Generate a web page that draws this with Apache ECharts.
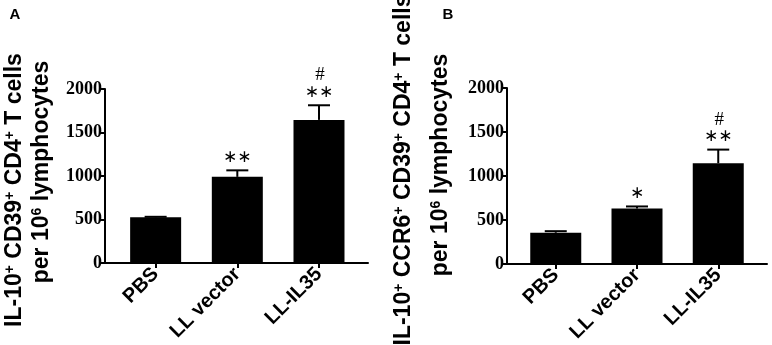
<!DOCTYPE html>
<html>
<head>
<meta charset="utf-8">
<script src="https://cdn.jsdelivr.net/npm/echarts@6/dist/echarts.min.js"></script>
<style>
    html, body { margin: 0; background: #fff; }
    #chart { width: 772px; height: 345px; }
</style>
</head>
<body>
<div id="chart"></div>
<script>
// groups on the x axis (placed at 1, 2, 3)
const groups = ["PBS", "LL vector", "LL-IL35"];
const xPos = [1, 2, 3];

// panel A: IL-10+ CD39+ CD4+ T cells
const meanA = [525, 990, 1645];
const semA = [6, 75, 168];
const starA = ["", "**", "**"];
const hashA = ["", "", "#"];

// panel B: IL-10+ CCR6+ CD39+ CD4+ T cells
const meanB = [355, 632, 1145];
const semB = [18, 22, 155];
const starB = ["", "*", "**"];
const hashB = ["", "", "#"];

const yMin = 0;
const yMax = 2000;
const yStep = 500;

const chart = echarts.init(document.getElementById("chart"));

function makeX(idx, min, max) {
    return {
        gridIndex: idx,
        type: "value",
        min: min,
        max: max,
        splitLine: { show: false },
        axisLine: { lineStyle: { color: "#000", width: 2 } },
        axisTick: {
            customValues: xPos,
            length: 5,
            lineStyle: { color: "#000", width: 2 }
        },
        axisLabel: {
            customValues: xPos,
            rotate: 45,
            margin: 8,
            color: "#000",
            fontFamily: "Liberation Sans",
            fontWeight: "bold",
            fontSize: 20,
            formatter: (v) => groups[Math.round(v) - 1]
        }
    };
}

function makeY(idx) {
    return {
        gridIndex: idx,
        type: "value",
        min: yMin,
        max: yMax,
        interval: yStep,
        splitLine: { show: false },
        axisLine: { show: true, lineStyle: { color: "#000", width: 2 } },
        axisTick: { show: true, length: 6, lineStyle: { color: "#000", width: 2 } },
        axisLabel: {
            margin: 3,
            color: "#000",
            fontFamily: "Liberation Serif",
            fontWeight: "bold",
            fontSize: 18,
            formatter: (v) => String(v)
        }
    };
}

// error bar (upper only) + significance marks
function errRender(sem, star, hash) {
    return function (params, api) {
        const i = params.dataIndex;
        const x = api.value(0);
        const y = api.value(1);
        const base = api.coord([x, y]);
        const top = api.coord([x, y + sem[i]]);
        const kids = [
            {
                type: "line",
                shape: { x1: base[0], y1: base[1], x2: top[0], y2: top[1] },
                style: { stroke: "#000", lineWidth: 2 }
            },
            {
                type: "line",
                shape: { x1: top[0] - 11, y1: top[1], x2: top[0] + 11, y2: top[1] },
                style: { stroke: "#000", lineWidth: 2 }
            }
        ];
        if (star[i]) {
            kids.push({
                type: "text",
                x: top[0],
                y: top[1] - 13,
                style: {
                    text: star[i].replace(/\*/g, "\u2217"),
                    fontFamily: "DejaVu Sans",
                    fontSize: 17,
                    align: "center",
                    verticalAlign: "middle",
                    fill: "#000"
                }
            });
        }
        if (hash[i]) {
            kids.push({
                type: "text",
                x: top[0] + 1,
                y: top[1] - 30,
                style: {
                    text: hash[i],
                    fontFamily: "Liberation Serif",
                    fontSize: 19,
                    align: "center",
                    verticalAlign: "middle",
                    fill: "#000"
                }
            });
        }
        return { type: "group", children: kids };
    };
}

const titleRich = {
    sup: { fontSize: 14, fontWeight: "bold", fontFamily: "Liberation Sans", verticalAlign: "top", lineHeight: 15 }
};

function vText(x, y, text) {
    return {
        type: "text",
        x: x,
        y: y,
        rotation: Math.PI / 2,
        style: {
            text: text,
            fontFamily: "Liberation Sans",
            fontWeight: "bold",
            fontSize: 23,
            align: "center",
            verticalAlign: "middle",
            fill: "#000",
            rich: titleRich
        }
    };
}

chart.setOption({
    animation: false,
    grid: [
        { left: 105, right: 404, top: 89, bottom: 82 },
        { left: 507, right: 5, top: 88, bottom: 81 }
    ],
    xAxis: [makeX(0, 0.38, 3.6), makeX(1, 0.4, 3.6)],
    yAxis: [makeY(0), makeY(1)],
    graphic: [
        { type: "text", x: 15, y: 15, style: { text: "A", fontFamily: "Liberation Sans", fontWeight: "bold", fontSize: 15, align: "center", verticalAlign: "middle", fill: "#000" } },
        { type: "text", x: 448, y: 15, style: { text: "B", fontFamily: "Liberation Sans", fontWeight: "bold", fontSize: 15, align: "center", verticalAlign: "middle", fill: "#000" } },
        vText(15, 190, "IL-10{sup|+} CD39{sup|+} CD4{sup|+} T cells"),
        vText(42, 172, "per 10{sup|6} lymphocytes"),
        vText(404, 170, "IL-10{sup|+} CCR6{sup|+} CD39{sup|+} CD4{sup|+} T cells"),
        vText(441, 165, "per 10{sup|6} lymphocytes")
    ],
    series: [
        {
            type: "bar",
            xAxisIndex: 0,
            yAxisIndex: 0,
            barWidth: 51,
            itemStyle: { color: "#000" },
            data: xPos.map((x, i) => [x, meanA[i]])
        },
        {
            type: "custom",
            xAxisIndex: 0,
            yAxisIndex: 0,
            renderItem: errRender(semA, starA, hashA),
            data: xPos.map((x, i) => [x, meanA[i]]),
            z: 3
        },
        {
            type: "bar",
            xAxisIndex: 1,
            yAxisIndex: 1,
            barWidth: 51,
            itemStyle: { color: "#000" },
            data: xPos.map((x, i) => [x, meanB[i]])
        },
        {
            type: "custom",
            xAxisIndex: 1,
            yAxisIndex: 1,
            renderItem: errRender(semB, starB, hashB),
            data: xPos.map((x, i) => [x, meanB[i]]),
            z: 3
        }
    ]
});
</script>
</body>
</html>
